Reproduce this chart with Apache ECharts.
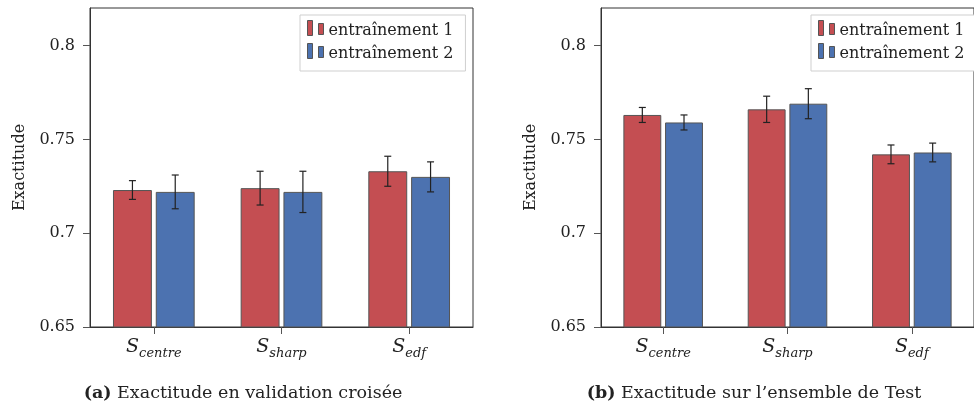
<!DOCTYPE html>
<html>
<head>
<meta charset="utf-8">
<script src="https://cdn.jsdelivr.net/npm/echarts@6/dist/echarts.min.js"></script>
<style>
html,body{margin:0;padding:0;background:#fff;}
#chart{width:974px;height:408px;}
</style>
</head>
<body>
<div id="chart"></div>
<script>
// ---- data ----
var categories = ['centre', 'sharp', 'edf'];
var seriesNames = ['entraînement 1', 'entraînement 2'];
var yTicks = [0.65, 0.7, 0.75, 0.8];

var cvTrain1 = [0.723, 0.724, 0.733];
var cvTrain1Err = [0.005, 0.009, 0.008];
var cvTrain2 = [0.722, 0.722, 0.730];
var cvTrain2Err = [0.009, 0.011, 0.008];

var testTrain1 = [0.763, 0.766, 0.742];
var testTrain1Err = [0.004, 0.007, 0.005];
var testTrain2 = [0.759, 0.769, 0.743];
var testTrain2Err = [0.004, 0.008, 0.005];

var captionA = 'Exactitude en validation croisée';
var captionB = 'Exactitude sur l\u2019ensemble de Test';

// ---- styling ----
var FONT = 'DejaVu Serif';
var RED = '#C44E52';
var BLUE = '#4C72B0';
var INK = '#222';
var CAT_GAP = 0.36, BAR_GAP = 0.10;

function errData(vals, errs) {
  return vals.map(function (v, i) { return [i, v - errs[i], v + errs[i]]; });
}

function errSeries(vals, errs, sign, gi) {
  return {
    type: 'custom', xAxisIndex: gi, yAxisIndex: gi, z: 10, silent: true,
    data: errData(vals, errs),
    encode: { x: 0, y: [1, 2] },
    renderItem: function (params, api) {
      var i = api.value(0);
      var lo = api.coord([i, api.value(1)]);
      var hi = api.coord([i, api.value(2)]);
      var band = api.size([1, 0])[0];
      var barW = band * (1 - CAT_GAP) / (2 + BAR_GAP);
      var x = lo[0] + sign * barW * (1 + BAR_GAP) / 2;
      var c = 3.5;
      var st = { stroke: INK, lineWidth: 1.2 };
      return { type: 'group', children: [
        { type: 'line', shape: { x1: x, y1: lo[1], x2: x, y2: hi[1] }, style: st },
        { type: 'line', shape: { x1: x - c, y1: lo[1], x2: x + c, y2: lo[1] }, style: st },
        { type: 'line', shape: { x1: x - c, y1: hi[1], x2: x + c, y2: hi[1] }, style: st }
      ]};
    }
  };
}

function barSeries(name, vals, color, gi) {
  return {
    name: name, type: 'bar', xAxisIndex: gi, yAxisIndex: gi,
    data: vals, barGap: (BAR_GAP * 100) + '%', barCategoryGap: (CAT_GAP * 100) + '%',
    itemStyle: { color: color, borderColor: '#555', borderWidth: 1 },
    silent: true
  };
}

function xAxis(gi) {
  return {
    type: 'category', gridIndex: gi, data: categories,
    axisLine: { lineStyle: { color: '#333', width: 1 } },
    axisTick: { show: true, alignWithLabel: true, length: 7, inside: false, lineStyle: { color: '#555' } },
    axisLabel: {
      margin: 14,
      formatter: function (v) { return '{s|S}{sub|' + v + '}'; },
      rich: {
        s: { fontFamily: FONT, fontStyle: 'italic', fontSize: 19, color: INK, lineHeight: 19, verticalAlign: 'bottom', padding: [0, 0, 3, 0] },
        sub: { fontFamily: FONT, fontStyle: 'italic', fontSize: 13, color: INK, lineHeight: 13, verticalAlign: 'bottom' }
      }
    },
    splitLine: { show: false }
  };
}

function yAxis(gi) {
  return {
    type: 'value', gridIndex: gi, min: 0.65, max: 0.82, interval: 0.05,
    name: 'Exactitude', nameLocation: 'middle', nameGap: 62,
    nameTextStyle: { fontFamily: FONT, fontSize: 16, color: INK },
    axisLine: { show: true, lineStyle: { color: '#333', width: 1 } },
    axisTick: { show: true, length: 7, customValues: yTicks, lineStyle: { color: '#555' } },
    axisLabel: { margin: 15, customValues: yTicks, fontFamily: FONT, fontSize: 16, color: INK,
      formatter: function (v) { return String(Math.round(v * 100) / 100); } },
    splitLine: { show: false }
  };
}

function legend(left) {
  return {
    left: left, top: 15, orient: 'vertical', data: seriesNames,
    selectedMode: false,
    icon: 'path://M0,0H5V15H0Z M11,3H16V14H11Z',
    itemWidth: 16, itemHeight: 15, itemGap: 1,
    padding: [2, 12, 9, 7],
    borderColor: '#cfcfcf', borderWidth: 1, backgroundColor: '#fff',
    itemStyle: { borderColor: '#555', borderWidth: 1 },
    formatter: function (n) { return '{t|' + n + '}'; },
    textStyle: { fontFamily: FONT, fontSize: 16, color: INK,
      rich: { t: { fontFamily: FONT, fontSize: 16, color: INK, lineHeight: 16, padding: [6, 0, 0, 0] } } }
  };
}

var chart = echarts.init(document.getElementById('chart'), null, { renderer: 'canvas' });
chart.setOption({
  animation: false,
  backgroundColor: '#fff',
  grid: [
    { left: 90, top: 8, width: 383, height: 319, show: true, borderColor: '#333', borderWidth: 1, containLabel: false },
    { left: 601, top: 8, width: 384, height: 319, show: true, borderColor: '#333', borderWidth: 1, containLabel: false }
  ],
  xAxis: [xAxis(0), xAxis(1)],
  yAxis: [yAxis(0), yAxis(1)],
  legend: [legend(300), legend(811)],
  series: [
    barSeries(seriesNames[0], cvTrain1, RED, 0),
    barSeries(seriesNames[1], cvTrain2, BLUE, 0),
    errSeries(cvTrain1, cvTrain1Err, -1, 0),
    errSeries(cvTrain2, cvTrain2Err, 1, 0),
    barSeries(seriesNames[0], testTrain1, RED, 1),
    barSeries(seriesNames[1], testTrain2, BLUE, 1),
    errSeries(testTrain1, testTrain1Err, -1, 1),
    errSeries(testTrain2, testTrain2Err, 1, 1)
  ],
  graphic: [
    { type: 'text', x: 243, y: 393, silent: true,
      style: { text: '{b|(a)} ' + captionA, rich: { b: { fontWeight: 'bold', fontFamily: FONT, fontSize: 17.5, fill: INK } },
        fontFamily: FONT, fontSize: 17.5, fill: INK, align: 'center', verticalAlign: 'middle' } },
    { type: 'text', x: 754, y: 393, silent: true,
      style: { text: '{b|(b)} ' + captionB, rich: { b: { fontWeight: 'bold', fontFamily: FONT, fontSize: 17.5, fill: INK } },
        fontFamily: FONT, fontSize: 17.5, fill: INK, align: 'center', verticalAlign: 'middle' } }
  ]
});
</script>
</body>
</html>
